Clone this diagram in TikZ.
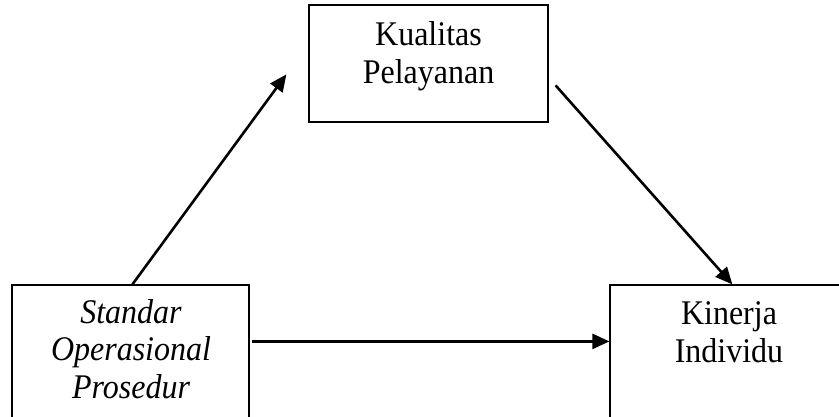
\documentclass[tikz,border=0pt]{standalone}
\usepackage{fontspec}
\setmainfont{Liberation Serif}
\usetikzlibrary{arrows.meta}
\tikzset{
  box/.style={draw=black, line width=1.2pt, fill=none, inner sep=0pt},
  lbl/.style={align=center, font=\fontsize{32}{34.3}\selectfont, inner sep=0pt, yscale=1.08},
  arr/.style={line width=2.6pt, -{Triangle[length=17pt,width=15pt]}, shorten >=0pt}
}
\begin{document}
\begin{tikzpicture}[x=1pt,y=-1pt]
\useasboundingbox (0,0) rectangle (839,416);
\clip (0,0) rectangle (839,416);
% boxes
\node[box, minimum width=239pt, minimum height=117pt] (kp) at (428.5,63.5) {};
\node[box, minimum width=237pt, minimum height=150pt] (sop) at (130.5,360) {};
\node[box, minimum width=238pt, minimum height=150pt] (ki) at (729,360) {};
% labels
\node[lbl, anchor=base] (kpt) at (428.5,83) {Kualitas\\Pelayanan};
\node[lbl, anchor=base, font=\fontsize{32}{34.3}\selectfont\itshape] (sopt) at (131,398) {Standar\\Operasional\\Prosedur};
\node[lbl, anchor=base] (kit) at (729,362) {Kinerja\\Individu};
% connector ends
\coordinate (a1s) at ([xshift=121pt]sop.north west);
\coordinate (a1e) at ([xshift=-22pt,yshift=-70pt]kp.north west);
\coordinate (a2s) at ([xshift=7pt,yshift=-81pt]kp.north east);
\coordinate (a2e) at ([xshift=123pt]ki.north west);
\coordinate (a3s) at ([xshift=2pt,yshift=-57pt]sop.north east);
\coordinate (a3e) at ([yshift=-57pt]ki.north west);
\draw[arr] (a1s) -- (a1e);
\draw[arr] (a2s) -- (a2e);
\draw[arr] (a3s) -- (a3e);
\end{tikzpicture}
\end{document}
